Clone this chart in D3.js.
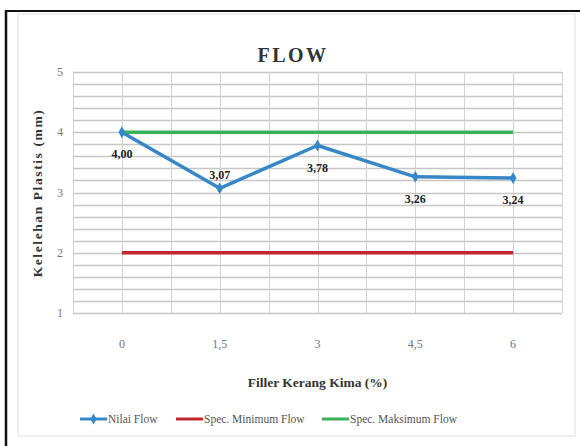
<!DOCTYPE html>
<html>
<head>
<meta charset="utf-8">
<script src="https://cdn.jsdelivr.net/npm/d3@7"></script>
<style>
  html, body { margin: 0; padding: 0; background: #fff; }
  svg { display: block; }
</style>
</head>
<body>
<svg id="chart" width="580" height="446"></svg>
<script>
// Flow test results per filler content
const categories = ["0", "1,5", "3", "4,5", "6"];
const nilaiFlow = [4.00, 3.07, 3.78, 3.26, 3.24];
const specMin = [2, 2, 2, 2, 2];
const specMax = [4, 4, 4, 4, 4];
const yTicks = [1, 2, 3, 4, 5];
const labelPos = ["below", "above", "below", "below", "below"];
const legendNames = ["Nilai Flow", "Spec. Minimum Flow", "Spec. Maksimum Flow"];

const colors = { flow: "#3787c6", min: "#c3262e", max: "#3bb159" };

const svg = d3.select("#chart");
const serif = "'Liberation Serif', 'Times New Roman', serif";

// Frame
svg.append("rect").attr("x", 18).attr("y", 14).attr("width", 557).attr("height", 422)
  .attr("fill", "#fff").attr("stroke", "#ececec").attr("stroke-width", 1.5);
svg.append("line").attr("x1", 5).attr("x2", 580).attr("y1", 11).attr("y2", 11)
  .attr("stroke", "#111").attr("stroke-width", 2);
svg.append("line").attr("x1", 6).attr("x2", 6).attr("y1", 10).attr("y2", 446)
  .attr("stroke", "#111").attr("stroke-width", 2.5);

const plot = { left: 73, right: 562, top: 72, bottom: 313 };

const x = d3.scaleBand().domain(categories).range([plot.left, plot.right]);
const xc = d => x(d) + x.bandwidth() / 2;
const y = d3.scaleLinear().domain([1, 5]).range([plot.bottom, plot.top]);

const g = svg.append("g");

// Horizontal gridlines every 0.2
const minor = d3.range(1, 5.001, 0.2);
g.selectAll(".hgrid").data(minor).join("line")
  .attr("x1", plot.left).attr("x2", plot.right)
  .attr("y1", d => Math.round(y(d)) + 0.5).attr("y2", d => Math.round(y(d)) + 0.5)
  .attr("stroke", "#c6c6c6").attr("stroke-width", 1.3);

// Vertical gridlines at band edges and centres
const vEdges = categories.map(c => x(c)).concat([plot.right]);
const vCenters = categories.map(c => xc(c));
g.selectAll(".vgrid").data(vEdges.concat(vCenters)).join("line")
  .attr("x1", d => Math.round(d) + 0.5).attr("x2", d => Math.round(d) + 0.5)
  .attr("y1", plot.top).attr("y2", plot.bottom)
  .attr("stroke", "#d3d3d3").attr("stroke-width", 1);

// Y tick labels
g.selectAll(".ytick").data(yTicks).join("text")
  .attr("x", 60).attr("y", d => y(d)).attr("dy", "0.35em")
  .attr("text-anchor", "middle")
  .attr("font-family", serif).attr("font-size", 12).attr("fill", "#777")
  .text(d => d);

// X tick labels
g.selectAll(".xtick").data(categories).join("text")
  .attr("x", d => xc(d)).attr("y", 344).attr("dy", "0.35em")
  .attr("text-anchor", "middle")
  .attr("font-family", serif).attr("font-size", 12).attr("fill", "#777")
  .text(d => d);

const line = d3.line().x((d, i) => xc(categories[i])).y(d => y(d));

// Spec lines
g.append("path").datum(specMin).attr("d", line)
  .attr("fill", "none").attr("stroke", colors.min).attr("stroke-width", 3.5);
g.append("path").datum(specMax).attr("d", line)
  .attr("fill", "none").attr("stroke", colors.max).attr("stroke-width", 3.5);

// Measured flow
g.append("path").datum(nilaiFlow).attr("d", line)
  .attr("fill", "none").attr("stroke", colors.flow).attr("stroke-width", 3.5)
  .attr("stroke-linejoin", "round");
g.selectAll(".mk").data(nilaiFlow).join("path")
  .attr("transform", (d, i) => `translate(${xc(categories[i])},${y(d)})`)
  .attr("d", d3.symbol(d3.symbolDiamond, 40))
  .attr("fill", colors.flow);

// Value labels
g.selectAll(".vlab").data(nilaiFlow).join("text")
  .attr("x", (d, i) => xc(categories[i]))
  .attr("y", (d, i) => labelPos[i] === "above" ? y(d) - 13 : y(d) + 22)
  .attr("dy", "0.35em")
  .attr("text-anchor", "middle")
  .attr("font-family", serif).attr("font-size", 12).attr("font-weight", "bold")
  .attr("fill", "#222")
  .text(d => d.toFixed(2).replace(".", ","));

// Title
svg.append("text").attr("x", 293).attr("y", 55).attr("dy", "0.35em")
  .attr("text-anchor", "middle")
  .attr("font-family", serif).attr("font-size", 20).attr("font-weight", "bold")
  .attr("letter-spacing", 2.5).attr("fill", "#333")
  .text("FLOW");

// Axis titles
svg.append("text").attr("transform", "translate(37,193) rotate(-90)")
  .attr("text-anchor", "middle").attr("dy", "0.35em")
  .attr("font-family", serif).attr("font-size", 13.5).attr("font-weight", "bold")
  .attr("fill", "#333").attr("letter-spacing", 1.6)
  .text("Kelelehan Plastis  (mm)");
svg.append("text").attr("x", (plot.left + plot.right) / 2).attr("y", 382).attr("dy", "0.35em")
  .attr("text-anchor", "middle")
  .attr("font-family", serif).attr("font-size", 13.5).attr("font-weight", "bold")
  .attr("fill", "#333")
  .text("Filler  Kerang Kima (%)");

// Legend
const legendItems = [
  { name: legendNames[0], color: colors.flow, marker: true, x: 80 },
  { name: legendNames[1], color: colors.min, marker: false, x: 176 },
  { name: legendNames[2], color: colors.max, marker: false, x: 322 }
];
const lg = svg.append("g");
legendItems.forEach(it => {
  lg.append("line").attr("x1", it.x).attr("x2", it.x + 27).attr("y1", 419).attr("y2", 419)
    .attr("stroke", it.color).attr("stroke-width", 3);
  if (it.marker) {
    lg.append("path").attr("transform", `translate(${it.x + 13.5},419)`)
      .attr("d", d3.symbol(d3.symbolDiamond, 36)).attr("fill", it.color);
  }
  lg.append("text").attr("x", it.x + 28).attr("y", 419).attr("dy", "0.35em")
    .attr("font-family", serif).attr("font-size", 11.5).attr("fill", "#555")
    .text(it.name);
});
</script>
</body>
</html>
